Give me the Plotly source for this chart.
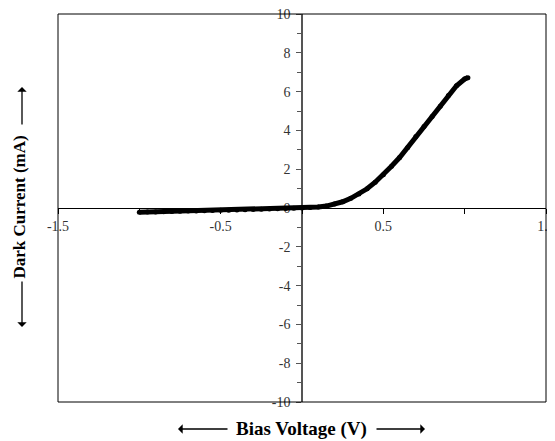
import plotly.graph_objects as go

# ---- data ----
bias_voltage = [-1.00, -0.95, -0.90, -0.85, -0.80, -0.75, -0.70, -0.65, -0.60, -0.55,
                -0.50, -0.45, -0.40, -0.35, -0.30, -0.25, -0.20, -0.15, -0.10, -0.05,
                0.00, 0.05, 0.10, 0.15, 0.20, 0.25, 0.30, 0.35, 0.40, 0.45,
                0.50, 0.55, 0.60, 0.65, 0.70, 0.75, 0.80, 0.85, 0.90, 0.95,
                1.00, 1.02]
dark_current = [-0.22, -0.21, -0.20, -0.19, -0.18, -0.17, -0.16, -0.15, -0.14, -0.13,
                -0.12, -0.11, -0.10, -0.09, -0.08, -0.07, -0.05, -0.04, -0.03, -0.01,
                0.00, 0.02, 0.05, 0.10, 0.20, 0.32, 0.50, 0.72, 0.99, 1.33,
                1.72, 2.15, 2.60, 3.12, 3.68, 4.20, 4.72, 5.25, 5.80, 6.30,
                6.65, 6.72]

x_tick_vals = [-1.5, -0.5, 0.5, 1.5]
x_tick_text = ["-1.5", "-0.5", "0.5", "1.5"]
y_tick_vals = [-10, -8, -6, -4, -2, 0, 2, 4, 6, 8, 10]
y_tick_text = ["-10", "-8", "-6", "-4", "-2", "0", "2", "4", "6", "8", "10"]

x_title = "Bias Voltage (V)"
y_title = "Dark Current (mA)"

# ---- layout geometry (page body has an 8px margin) ----
OFF = 8
W, H = 555 - OFF, 441 - OFF
PLOT_L, PLOT_R, PLOT_T, PLOT_B = 58, 546, 14, 402   # page pixels
L = PLOT_L - OFF
T = PLOT_T - OFF
R = 555 - PLOT_R
B = 441 - PLOT_B
PW, PH = W - L - R, H - T - B


def px(xp):
    return (xp - OFF - L) / PW


def py(yp):
    return (OFF + H - B - yp) / PH


FONT = "Liberation Serif, Times New Roman, serif"

fig = go.Figure()
fig.add_trace(go.Scatter(
    x=bias_voltage, y=dark_current, mode="lines+markers",
    line=dict(color="black", width=5),
    marker=dict(color="black", size=5),
    showlegend=False, hoverinfo="skip",
))

fig.update_layout(
    width=W, height=H,
    margin=dict(l=L, r=R, t=T, b=B, pad=0),
    paper_bgcolor="white", plot_bgcolor="white",
    font=dict(family=FONT, size=14, color="#222"),
    xaxis=dict(
        range=[-1.5, 1.5], anchor="free", position=0.5, automargin=False,
        showgrid=False, zeroline=False,
        showline=True, linecolor="black", linewidth=1,
        tickmode="array", tickvals=x_tick_vals, ticktext=x_tick_text,
        ticks="outside", ticklen=5, tickcolor="black", tickwidth=1,
        ticklabeloverflow="allow",
        minor=dict(tickmode="linear", tick0=0, dtick=0.5, ticks="outside",
                   ticklen=5, tickcolor="black"),
        layer="below traces",
        tickfont=dict(family=FONT, size=14, color="#333"),
    ),
    yaxis=dict(
        range=[-10, 10], anchor="free", position=0.5, automargin=False,
        showgrid=False, zeroline=False,
        showline=True, linecolor="#555", linewidth=1.5,
        tickmode="array", tickvals=y_tick_vals, ticktext=y_tick_text,
        ticks="outside", ticklen=5, tickcolor="#555", tickwidth=1,
        ticklabelstandoff=3, ticklabeloverflow="allow",
        minor=dict(tickmode="linear", tick0=1, dtick=2, ticks="outside",
                   ticklen=4, tickcolor="#555"),
        layer="below traces",
        tickfont=dict(family=FONT, size=14, color="#333"),
    ),
    shapes=[dict(type="rect", xref="paper", yref="paper", x0=0, x1=1, y0=0, y1=1,
                 line=dict(color="black", width=1), layer="above")],
)

ann = []
# axis titles
ann.append(dict(text="<b>" + y_title + "</b>", xref="paper", yref="paper",
                x=px(19), y=py(207.5), showarrow=False, textangle=-90,
                xanchor="center", yanchor="middle",
                font=dict(family=FONT, size=17, color="black")))
ann.append(dict(text="<b>" + x_title + "</b>", xref="paper", yref="paper",
                x=px(301.5), y=py(429), showarrow=False,
                xanchor="center", yanchor="middle",
                font=dict(family=FONT, size=19, color="black")))


def arrow(hx, hy, tx, ty):
    return dict(text="", xref="paper", yref="paper", x=px(hx), y=py(hy),
                ax=tx - hx, ay=ty - hy, showarrow=True, arrowhead=1,
                arrowsize=1.2, arrowwidth=1.3, arrowcolor="black",
                standoff=0, startstandoff=0)


ann.append(arrow(22, 87, 22, 126))
ann.append(arrow(22, 327, 22, 280))
ann.append(arrow(178, 429, 229, 429))
ann.append(arrow(425, 429, 375, 429))
fig.update_layout(annotations=ann)

fig.write_html("out.html")
